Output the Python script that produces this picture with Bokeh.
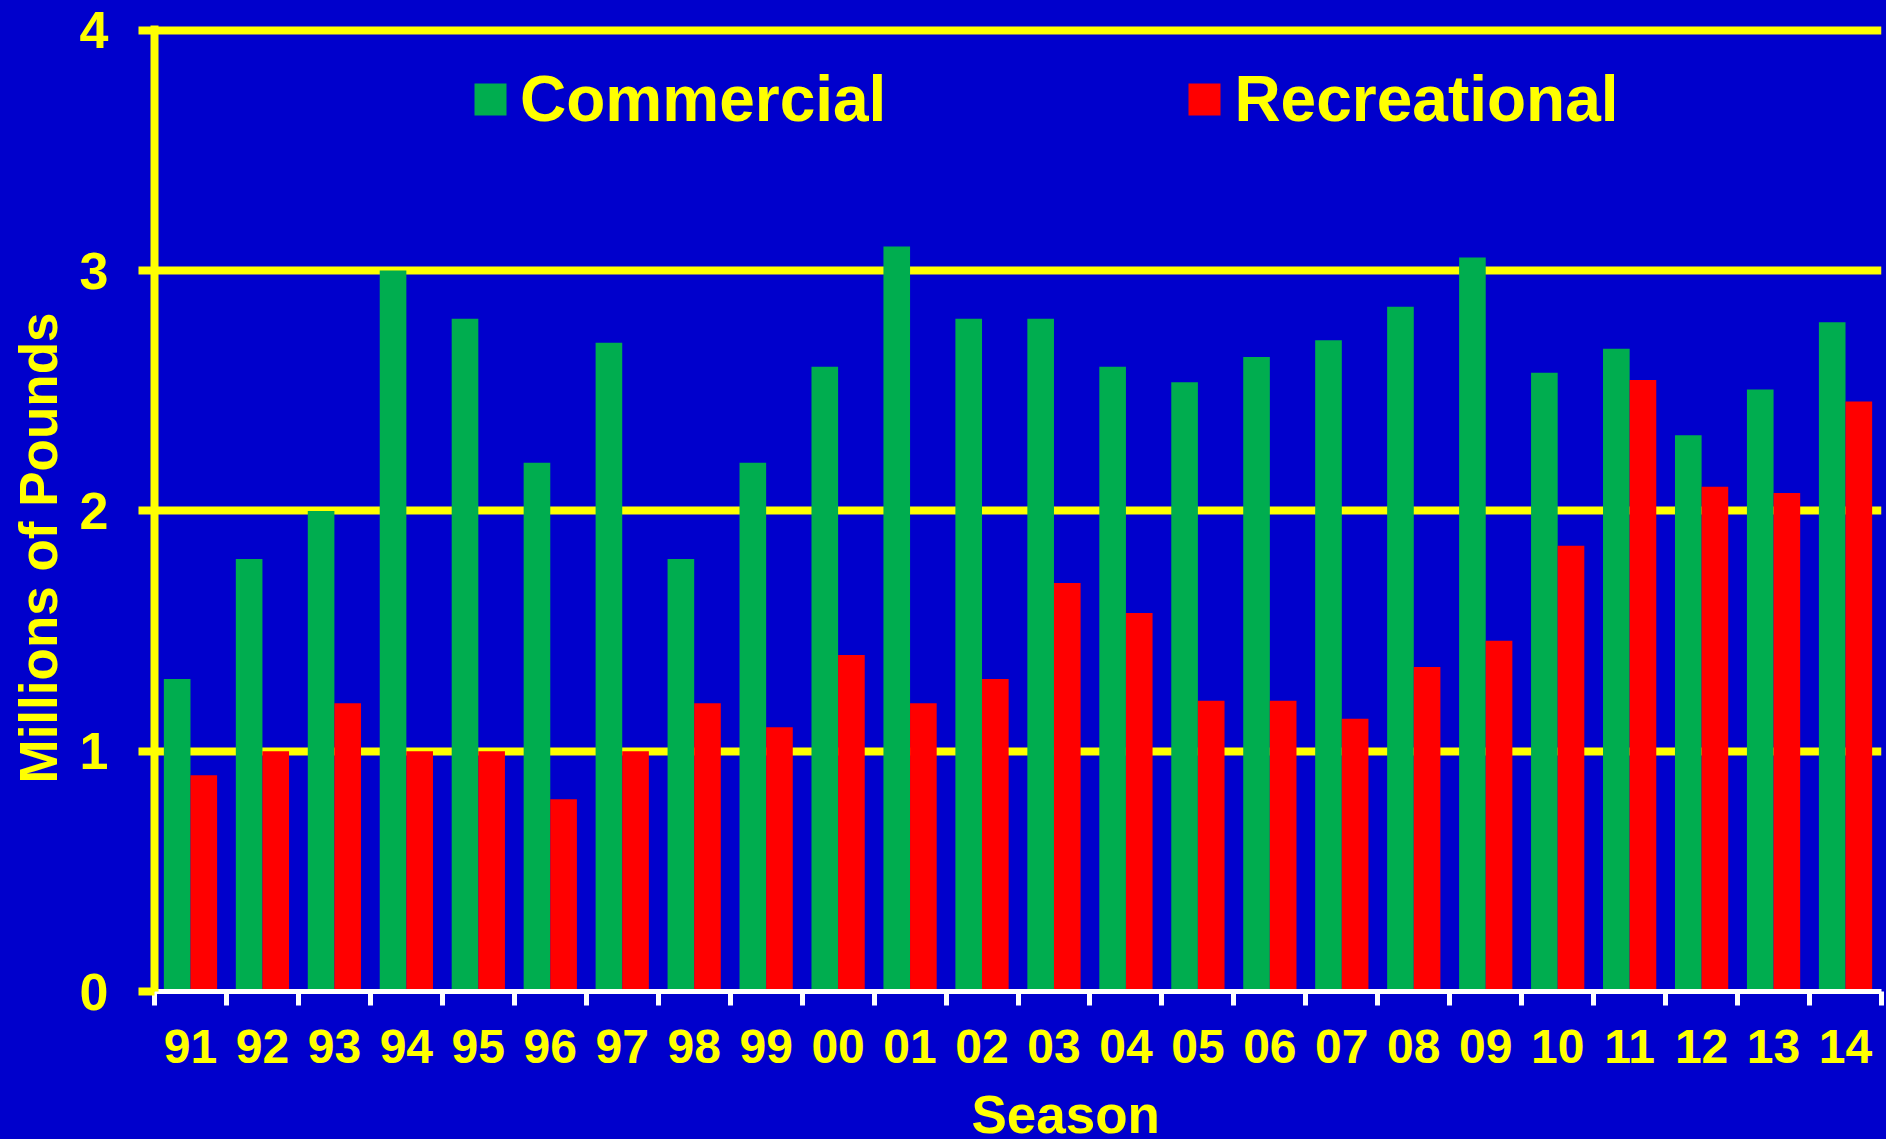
from bokeh.plotting import figure
from bokeh.layouts import column
from bokeh.models import (ColumnDataSource, FactorRange, Range1d, LinearAxis, CategoricalAxis,
                          FixedTicker, Legend, Title, Label)
from bokeh.transform import dodge
from bokeh.embed import file_html
from bokeh.resources import INLINE

seasons = ["91", "92", "93", "94", "95", "96", "97", "98", "99", "00", "01", "02",
           "03", "04", "05", "06", "07", "08", "09", "10", "11", "12", "13", "14"]
commercial = [1.30, 1.80, 2.00, 3.00, 2.80, 2.20, 2.70, 1.80, 2.20, 2.60, 3.10, 2.80,
              2.80, 2.60, 2.535, 2.64, 2.71, 2.85, 3.055, 2.575, 2.675, 2.315, 2.505, 2.785]
recreational = [0.90, 1.00, 1.20, 1.00, 1.00, 0.80, 1.00, 1.20, 1.10, 1.40, 1.20, 1.30,
                 1.70, 1.575, 1.21, 1.21, 1.135, 1.35, 1.46, 1.855, 2.545, 2.10, 2.075, 2.455]
y_ticks = [0, 1, 2, 3, 4]
series_names = ["Commercial", "Recreational"]
x_title = "Season"
y_title = "Millions of Pounds"

BG = "#0000CC"
YEL = "#FFFF00"
GREEN = "#00AD4F"
RED = "#FF0000"
FONT = "Liberation Sans"

W = 1884
H_MAIN = 1075
H_TITLE = 61

source = ColumnDataSource(dict(season=seasons, commercial=commercial, recreational=recreational))

p = figure(width=W, height=H_MAIN, output_backend="svg", toolbar_location=None,
           x_range=FactorRange(factors=seasons, factor_padding=0, range_padding=0),
           y_range=Range1d(0, 4.02), x_axis_location=None, y_axis_location="left",
           min_border_left=154, min_border_right=3, min_border_top=25, min_border_bottom=84)
p.background_fill_color = BG
p.border_fill_color = BG
p.outline_line_color = None

r1 = p.vbar(x=dodge("season", -0.185, range=p.x_range), top="commercial", width=0.37,
            source=source, fill_color=GREEN, line_color=None)
r2 = p.vbar(x=dodge("season", 0.185, range=p.x_range), top="recreational", width=0.37,
            source=source, fill_color=RED, line_color=None)

# y axis
ya = p.yaxis[0]
ya.ticker = FixedTicker(ticks=y_ticks)
ya.axis_line_color = YEL
ya.axis_line_width = 8
ya.major_tick_line_color = YEL
ya.major_tick_line_width = 8
ya.major_tick_out = 16
ya.major_tick_in = 0
ya.minor_tick_line_color = None
ya.major_label_text_color = YEL
ya.major_label_text_font = FONT
ya.major_label_text_font_style = "bold"
ya.major_label_text_font_size = "52px"
ya.major_label_standoff = 30

p.ygrid.ticker = FixedTicker(ticks=y_ticks[1:])
p.ygrid.grid_line_color = YEL
p.ygrid.grid_line_width = 8
p.xgrid.grid_line_color = None

# boundary ticks on x: synthetic coordinates of the factor range (0 .. number of seasons)
bounds = list(range(len(seasons) + 1))
xa_ticks = LinearAxis(ticker=FixedTicker(ticks=bounds))
xa_ticks.axis_line_color = "white"
xa_ticks.axis_line_width = 5
xa_ticks.major_tick_line_color = "white"
xa_ticks.major_tick_line_width = 5
xa_ticks.major_tick_out = 14
xa_ticks.major_tick_in = 0
xa_ticks.minor_tick_line_color = None
xa_ticks.major_label_overrides = {b: "" for b in bounds}
xa_ticks.major_label_text_font_size = "1px"
xa_ticks.major_label_standoff = 0
p.add_layout(xa_ticks, "below")

xa = CategoricalAxis()
xa.axis_line_color = None
xa.major_tick_line_color = None
xa.major_tick_out = 0
xa.major_tick_in = 0
xa.major_label_text_color = YEL
xa.major_label_text_font = FONT
xa.major_label_text_font_style = "bold"
xa.major_label_text_font_size = "48px"
xa.major_label_standoff = 24
p.add_layout(xa, "below")

# y axis title
ty = Title(text=y_title, align="left", offset=208, standoff=14, vertical_align="top",
           text_color=YEL, text_font=FONT, text_font_style="bold", text_font_size="53px")
p.add_layout(ty, "left")

legend = Legend(items=[(series_names[0], [r1]), (series_names[1], [r2])], orientation="horizontal",
                location=(316, 855), glyph_width=40, glyph_height=40, label_standoff=10, spacing=298,
                padding=0, margin=0, border_line_color=None, background_fill_alpha=0,
                label_text_font_size="64px", label_text_font_style="bold", label_text_color=YEL,
                label_text_font=FONT)
p.add_layout(legend)

# x axis title strip below the plot
p2 = figure(width=W, height=H_TITLE, output_backend="svg", toolbar_location=None,
            x_range=Range1d(0, W), y_range=Range1d(0, H_TITLE),
            x_axis_location=None, y_axis_location=None, min_border=0)
p2.background_fill_color = BG
p2.border_fill_color = BG
p2.outline_line_color = None
p2.grid.visible = False
p2.add_layout(Label(x=994, y=22, text=x_title, text_align="center", text_baseline="alphabetic",
                    text_color=YEL, text_font=FONT, text_font_style="bold", text_font_size="53px"))

layout = column(p, p2, spacing=0)
layout.background = BG

html = file_html(layout, INLINE)
i = html.rfind("</head>")
if i >= 0:
    html = html[:i] + "<style>html,body{background:#0000CC;}</style>" + html[i:]
open("out.html", "w").write(html)
